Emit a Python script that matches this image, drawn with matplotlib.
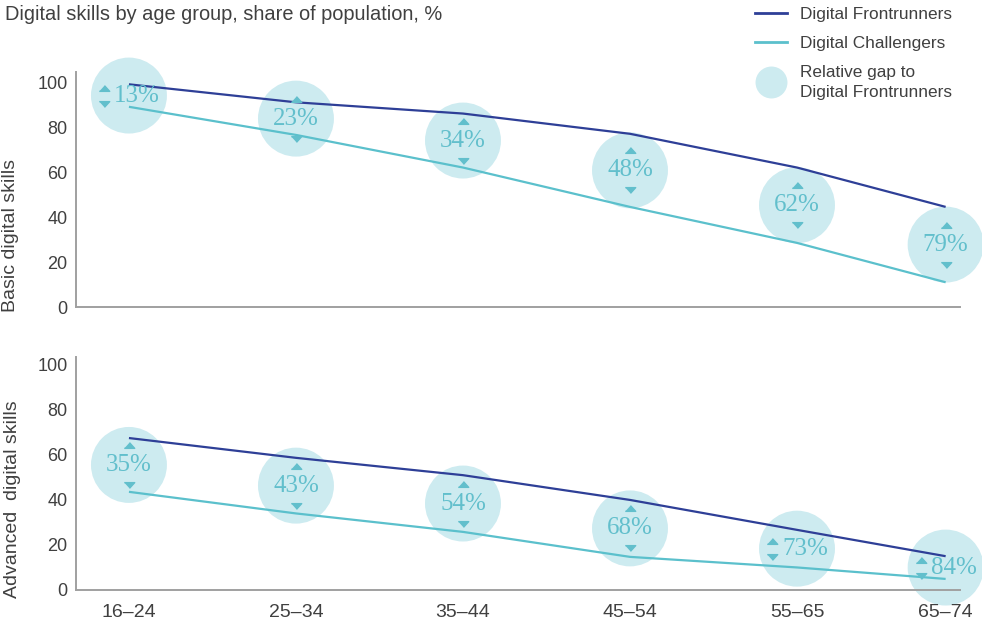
import matplotlib
matplotlib.use("Agg")
import matplotlib.pyplot as plt
from matplotlib.lines import Line2D
from matplotlib.transforms import offset_copy

# values (share of population, %)
age_groups = ["16–24", "25–34", "35–44", "45–54", "55–65", "65–74"]

basic_front = [99, 91, 86, 77, 62, 44.5]
basic_chall = [89, 76.5, 62, 44.5, 28.5, 11]
basic_gap = [13, 23, 34, 48, 62, 79]

adv_front = [67.5, 58.7, 51, 40, 26.7, 15]
adv_chall = [43.6, 34, 25.8, 14.7, 10, 4.9]
adv_gap = [35, 43, 54, 68, 73, 84]

# layout: the last age group sits a bit closer to the previous one
X_POS = [0, 1, 2, 3, 4, 4.89]

FRONT = "#2e3f97"
CHALL = "#5bc0cc"
BUBBLE = "#cdebf0"
ACCENT = "#62bfcc"
TXT = "#404040"
SPINE = "#a0a0a0"

plt.rcParams["font.family"] = ["Liberation Sans", "DejaVu Sans"]

UP = [(-1, -0.55), (1, -0.55), (0, 0.55)]
DOWN = [(-1, 0.55), (1, 0.55), (0, -0.55)]


def draw_panel(ax, front, chall, gaps, side_labels):
    ax.plot(X_POS, front, color=FRONT, lw=1.6, zorder=2, solid_capstyle="butt")
    ax.plot(X_POS, chall, color=CHALL, lw=1.6, zorder=2, solid_capstyle="butt")

    mids = [(f + c) / 2 for f, c in zip(front, chall)]
    ax.scatter(X_POS, mids, s=2990, color=BUBBLE, edgecolors="none",
               zorder=1, clip_on=False)

    for i, (x, y, g) in enumerate(zip(X_POS, mids, gaps)):
        if i in side_labels:
            # gap too narrow: arrows go left of the number
            tx, ty, ax_off, ay_off = 8, 0, -25, 8
        else:
            tx, ty, ax_off, ay_off = 0, 0, 0, 20
        t_txt = offset_copy(ax.transData, fig=ax.figure, x=tx, y=ty, units="dots")
        ax.text(x, y, f"{g}%", transform=t_txt, ha="center", va="center",
                family=["Liberation Serif", "DejaVu Serif"], fontsize=18,
                color=ACCENT, zorder=4)
        t_up = offset_copy(ax.transData, fig=ax.figure, x=ax_off, y=ay_off, units="dots")
        t_dn = offset_copy(ax.transData, fig=ax.figure, x=ax_off, y=-ay_off, units="dots")
        ax.plot([x], [y], marker=UP, ms=7.5, color=ACCENT, ls="none",
                transform=t_up, zorder=4, clip_on=False)
        ax.plot([x], [y], marker=DOWN, ms=7.5, color=ACCENT, ls="none",
                transform=t_dn, zorder=4, clip_on=False)

    ax.set_xlim(-0.317, 4.976)
    ax.set_yticks(range(0, 101, 20))
    for s in ["top", "right"]:
        ax.spines[s].set_visible(False)
    for s in ["left", "bottom"]:
        ax.spines[s].set_color(SPINE)
        ax.spines[s].set_linewidth(1.4)
    ax.tick_params(axis="both", length=0, labelsize=13, labelcolor=TXT)
    ax.tick_params(axis="y", pad=6)


fig = plt.figure(figsize=(9.82, 6.33), dpi=100)
ax1 = fig.add_axes([0.0774, 0.515, 0.9002, 0.371])
ax2 = fig.add_axes([0.0774, 0.068, 0.9002, 0.368])

draw_panel(ax1, basic_front, basic_chall, basic_gap, side_labels={0})
draw_panel(ax2, adv_front, adv_chall, adv_gap, side_labels={4, 5})

ax1.set_ylim(0, 104.4)
ax2.set_ylim(0, 103.5)
ax1.set_xticks([])
ax2.set_xticks(X_POS)
ax2.set_xticklabels(age_groups, fontsize=14)
ax2.tick_params(axis="x", pad=10)

ax1.set_ylabel("Basic digital skills", fontsize=14, color=TXT)
ax1.yaxis.set_label_coords(-0.064, 0.306)
ax2.set_ylabel("Advanced  digital skills", fontsize=14, color=TXT)
ax2.yaxis.set_label_coords(-0.062, 0.39)

fig.text(5 / 982, 1 - 15 / 633, "Digital skills by age group, share of population, %",
         fontsize=14.4, color=TXT, va="center", ha="left")

handles = [
    Line2D([], [], color=FRONT, lw=2),
    Line2D([], [], color=CHALL, lw=2),
    Line2D([], [], marker="o", ls="none", ms=23, mfc=BUBBLE, mec="none"),
]
labels = ["Digital Frontrunners", "Digital Challengers",
          "Relative gap to\nDigital Frontrunners"]
leg = fig.legend(handles, labels, loc="upper left",
                 bbox_to_anchor=(755 / 982, 1 - 7 / 633), frameon=False,
                 handlelength=1.85, handletextpad=0.75, labelspacing=0.8,
                 borderaxespad=0, borderpad=0, fontsize=12.4)
for t in leg.get_texts():
    t.set_color(TXT)
    t.set_linespacing(1.45)

fig.savefig("out.png", dpi=100)
